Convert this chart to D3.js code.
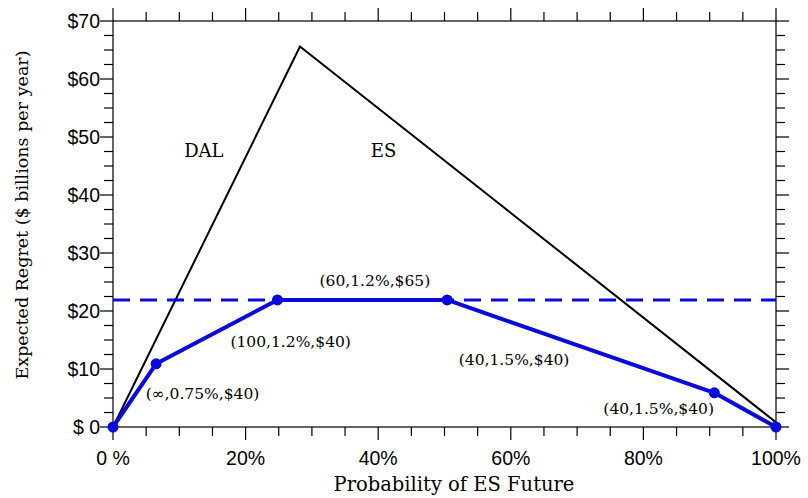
<!DOCTYPE html>
<html><head><meta charset="utf-8">
<script src="https://cdn.jsdelivr.net/npm/d3@7"></script>
<style>body{margin:0;background:#fff}</style>
</head><body>
<script>
const blackX = [0, 28.2, 100];
const blackY = [0, 65.6, 0.8];
const blueX = [0, 6.5, 24.8, 50.4, 90.7, 100];
const blueY = [0, 10.9, 21.9, 21.9, 5.9, 0];
const threshold = 21.9;
const xTicks = [0, 20, 40, 60, 80, 100];
const xTickLabels = ["0 %", "20%", "40%", "60%", "80%", "100%"];
const yTicks = [0, 10, 20, 30, 40, 50, 60, 70];
const yTickLabels = ["$ 0", "$10", "$20", "$30", "$40", "$50", "$60", "$70"];
const regionLabels = [{t:"DAL", x:13.7, y:46.6}, {t:"ES", x:40.8, y:46.6}];
const annotations = [
  {t:"(60,1.2%,$65)", x:39.5, y:24.3},
  {t:"(100,1.2%,$40)", x:26.8, y:13.8},
  {t:"(40,1.5%,$40)", x:60.5, y:10.7},
  {t:"(∞,0.75%,$40)", x:13.5, y:4.8},
  {t:"(40,1.5%,$40)", x:82.3, y:2.2}
];

const W = 808, H = 498;
const m = {l:113, r:32, t:21, b:71};
const svg = d3.select("body").append("svg").attr("width", W).attr("height", H);
const x = d3.scaleLinear().domain([0,100]).range([m.l, W-m.r]);
const y = d3.scaleLinear().domain([0,70]).range([H-m.b, m.t]);

svg.append("rect").attr("x", x(0)).attr("y", y(70)).attr("width", x(100)-x(0)).attr("height", y(0)-y(70))
  .attr("fill","none").attr("stroke","#000").attr("stroke-width",1.2);

const minorX = d3.range(0, 101, 5);
const minorY = d3.range(0, 70.1, 2.5);
const tg = svg.append("g").attr("stroke","#000").attr("stroke-width",1.2);
minorX.forEach(v => {
  const major = v % 20 === 0;
  const L = major ? 13 : 9;
  tg.append("line").attr("x1", x(v)).attr("x2", x(v)).attr("y1", y(0)).attr("y2", y(0)+L);
  tg.append("line").attr("x1", x(v)).attr("x2", x(v)).attr("y1", y(70)).attr("y2", y(70)-L);
});
minorY.forEach(v => {
  const major = v % 10 === 0;
  const L = major ? 13 : 9;
  tg.append("line").attr("y1", y(v)).attr("y2", y(v)).attr("x1", x(0)).attr("x2", x(0)-L);
  tg.append("line").attr("y1", y(v)).attr("y2", y(v)).attr("x1", x(100)).attr("x2", x(100)+L);
});

const sans = "'Liberation Sans', Arial, sans-serif";
const serif = "'DejaVu Serif', 'Liberation Serif', serif";

xTicks.forEach((v,i) => {
  svg.append("text").attr("x", x(v)).attr("y", y(0)+38).attr("text-anchor","middle")
    .attr("font-family", sans).attr("font-size", 19.5).text(xTickLabels[i]);
});
yTicks.forEach((v,i) => {
  svg.append("text").attr("x", x(0)-13).attr("y", y(v)+7).attr("text-anchor","end")
    .attr("font-family", sans).attr("font-size", 19.5).text(yTickLabels[i]);
});

svg.append("text").attr("x", 454).attr("y", 491).attr("text-anchor","middle")
  .attr("font-family", serif).attr("font-size", 19.5).text("Probability of ES Future");
svg.append("text").attr("transform", `translate(28,215) rotate(-90)`).attr("text-anchor","middle")
  .attr("font-family", serif).attr("font-size", 17.5).text("Expected Regret ($ billions per year)");

const line = d3.line().x(d => x(d[0])).y(d => y(d[1]));
svg.append("path").datum(blackX.map((v,i)=>[v, blackY[i]])).attr("d", line)
  .attr("fill","none").attr("stroke","#000").attr("stroke-width",2);

svg.append("line").attr("x1", x(0)).attr("x2", x(100)).attr("y1", y(threshold)).attr("y2", y(threshold))
  .attr("stroke","#0a0adc").attr("stroke-width",3).attr("stroke-dasharray","17,10");

const bdata = blueX.map((v,i)=>[v, blueY[i]]);
svg.append("path").datum(bdata).attr("d", line)
  .attr("fill","none").attr("stroke","#0a0adc").attr("stroke-width",4).attr("stroke-linejoin","round");
svg.selectAll("circle.pt").data(bdata).enter().append("circle")
  .attr("cx", d=>x(d[0])).attr("cy", d=>y(d[1])).attr("r", 5.5).attr("fill","#0a0adc");

regionLabels.forEach(d => {
  svg.append("text").attr("x", x(d.x)).attr("y", y(d.y)).attr("text-anchor","middle")
    .attr("font-family", serif).attr("font-size", 18).text(d.t);
});
annotations.forEach(d => {
  svg.append("text").attr("x", x(d.x)).attr("y", y(d.y)).attr("text-anchor","middle")
    .attr("font-family", serif).attr("font-size", 15.5).text(d.t);
});
</script>
</body></html>
